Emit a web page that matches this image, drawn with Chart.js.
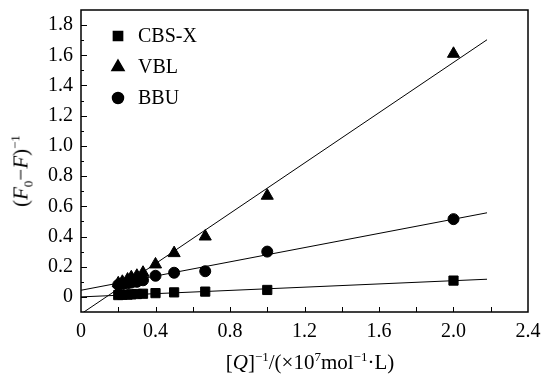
<!DOCTYPE html>
<html lang="en">
  <head>
    <meta charset="UTF-8" />
    <title>(F0-F)^-1 vs [Q]^-1</title>
    <script src="https://cdn.jsdelivr.net/npm/chart.js"></script>
    <style>
      body { margin: 0; background: #fff; }
      .wrap { position: relative; width: 546px; height: 374px; }
      canvas { position: absolute; left: 0; top: 0; }
      .ttl {
        position: absolute;
        font-family: "Liberation Serif", "DejaVu Serif", serif;
        font-size: 21px;
        color: #000;
        white-space: nowrap;
        line-height: 1;
      }
      .ttl sup, .ttl sub { font-size: 13px; line-height: 0; }
      #ytitle { left: 21px; top: 171px; transform: translate(-50%, -50%) rotate(-90deg); }
      #xtitle { left: 310px; top: 362px; transform: translate(-50%, -50%); }
    </style>
  </head>
  <body>
    <div class="wrap">
      <canvas id="chart" width="546" height="374"></canvas>
      <div class="ttl" id="ytitle">(<i>F</i><sub>0</sub>−<i>F</i>)<sup>−1</sup></div>
      <div class="ttl" id="xtitle">[<i>Q</i>]<sup>−1</sup>/(×10<sup>7</sup>mol<sup>−1</sup>·L)</div>
    </div>

    <script>
      // 1/[Q] values
      const invQ = [0.2, 0.222, 0.25, 0.27, 0.3, 0.333, 0.4, 0.5, 0.667, 1.0, 2.0];
      const cbsx = [0.012, 0.014, 0.015, 0.017, 0.019, 0.021, 0.025, 0.03, 0.035, 0.046, 0.108];
      const vbl = [0.09, 0.1, 0.115, 0.13, 0.14, 0.16, 0.215, 0.29, 0.4, 0.67, 1.61];
      const bbu = [0.08, 0.085, 0.09, 0.095, 0.1, 0.11, 0.14, 0.16, 0.17, 0.3, 0.515];

      // fitted lines: [x, y] end points
      const fitX = [0, 2.18];
      const cbsxFit = [0.0, 0.117];
      const vblFit = [-0.113, 1.703];
      const bbuFit = [0.044, 0.557];

      const yTicks = [0, 0.2, 0.4, 0.6, 0.8, 1.0, 1.2, 1.4, 1.6, 1.8];
      const xTicks = [0, 0.4, 0.8, 1.2, 1.6, 2.0, 2.4];

      const FONT = '"Liberation Serif", "DejaVu Serif", serif';
      Chart.defaults.font.family = FONT;
      Chart.defaults.color = "#000";

      const pts = (ys) => invQ.map((x, i) => ({ x: x, y: ys[i] }));
      const fit = (ys) => fitX.map((x, i) => ({ x: x, y: ys[i] }));

      // frame, inward ticks and legend
      const decor = {
        id: "decor",
        afterDraw(chart) {
          const ctx = chart.ctx;
          const a = chart.chartArea;
          const xs = chart.scales.x;
          const ys = chart.scales.y;
          ctx.save();
          ctx.strokeStyle = "#000";
          ctx.lineWidth = 1;
          ctx.beginPath();
          for (let v = 0.2; v < 2.4; v += 0.2) {
            const px = Math.round(xs.getPixelForValue(v)) + 0.5;
            ctx.moveTo(px, a.bottom);
            ctx.lineTo(px, a.bottom - 5);
          }
          for (let v = 0; v <= 1.85; v += 0.1) {
            const py = Math.round(ys.getPixelForValue(v)) + 0.5;
            const major = Math.round(v * 10) % 2 === 0;
            ctx.moveTo(a.left, py);
            ctx.lineTo(a.left + (major ? 6 : 3), py);
          }
          ctx.stroke();
          ctx.lineWidth = 1.5;
          ctx.strokeRect(a.left, a.top, a.right - a.left, a.bottom - a.top);

          // legend
          const items = chart.data.datasets.filter((d) => d.showLine === false);
          ctx.font = "20px " + FONT;
          ctx.textBaseline = "middle";
          items.forEach((d, i) => {
            const cy = a.top + 26 + i * 31;
            ctx.fillStyle = "#000";
            Chart.helpers.drawPoint(ctx, {
              pointStyle: d.pointStyle,
              radius: d.pointRadius,
              borderWidth: 1
            }, a.left + 37, cy);
            ctx.fill();
            ctx.fillText(d.label, a.left + 57, cy + 1);
          });
          ctx.restore();
        }
      };

      const markerSet = (label, data, style, r) => ({
        label: label,
        data: pts(data),
        showLine: false,
        pointStyle: style,
        pointRadius: r,
        pointHoverRadius: r,
        backgroundColor: "#000",
        borderColor: "#000",
        borderWidth: 1
      });
      const lineSet = (data) => ({
        label: "",
        data: fit(data),
        showLine: true,
        pointRadius: 0,
        borderColor: "#000",
        borderWidth: 1,
        fill: false
      });

      new Chart(document.getElementById("chart"), {
        type: "scatter",
        data: {
          datasets: [
            lineSet(cbsxFit),
            lineSet(vblFit),
            lineSet(bbuFit),
            markerSet("CBS-X", cbsx, "rect", 6.5),
            markerSet("VBL", vbl, "triangle", 7),
            markerSet("BBU", bbu, "circle", 5.5)
          ]
        },
        options: {
          responsive: false,
          animation: false,
          devicePixelRatio: 1,
          layout: { padding: { top: 10, right: 18, left: 0, bottom: 0 } },
          plugins: { legend: { display: false }, tooltip: { enabled: false } },
          scales: {
            x: {
              type: "linear",
              min: 0,
              max: 2.4,
              grid: { display: false, drawTicks: false },
              border: { display: false },
              afterBuildTicks: (s) => { s.ticks = xTicks.map((v) => ({ value: v })); },
              afterFit: (s) => { s.height = 62; s.paddingLeft = 0; s.paddingRight = 0; },
              ticks: {
                color: "#000",
                padding: 8,
                maxRotation: 0,
                font: { family: FONT, size: 20 },
                callback: (v) => (v === 0 ? "0" : v.toFixed(1))
              }
            },
            y: {
              type: "linear",
              min: -0.1,
              max: 1.9,
              grid: { display: false, drawTicks: false },
              border: { display: false },
              afterBuildTicks: (s) => { s.ticks = yTicks.map((v) => ({ value: v })); },
              afterFit: (s) => { s.width = 81; s.paddingTop = 0; s.paddingBottom = 0; },
              ticks: {
                color: "#000",
                padding: 8,
                font: { family: FONT, size: 20 },
                callback: (v) => (v === 0 ? "0" : v.toFixed(1))
              }
            }
          }
        },
        plugins: [decor]
      });
    </script>
  </body>
</html>
